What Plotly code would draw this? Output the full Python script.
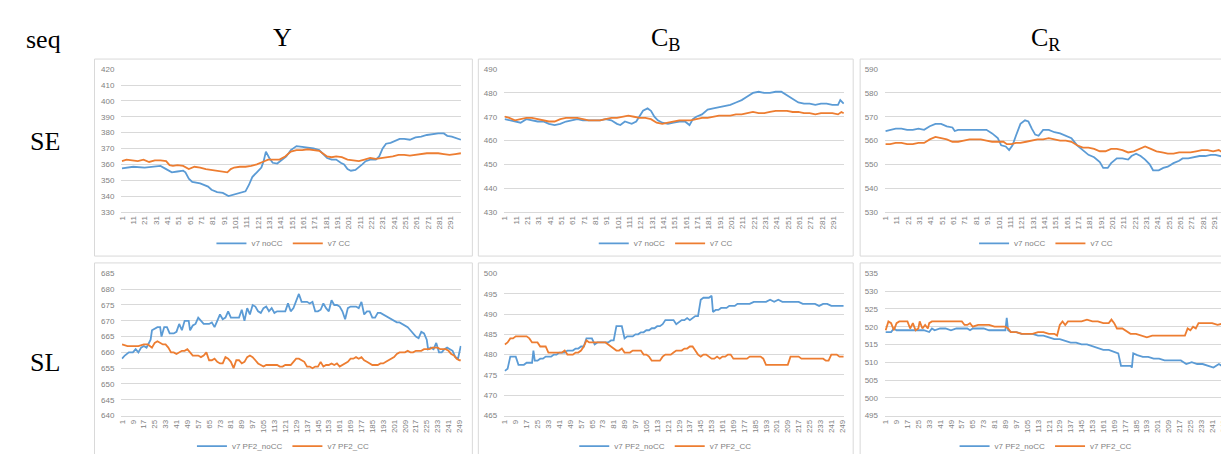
import plotly.graph_objects as go

# ---------------- data (index, value) ----------------
# Row SE (300 frames), Y
SE_Y_NOCC_X = [1,11,21,31,35,40,45,50,55,57,60,63,70,77,80,85,90,95,100,105,110,113,116,120,124,126,128,131,134,138,141,146,150,155,160,165,170,175,178,182,186,190,194,197,200,203,207,210,213,216,220,225,228,231,234,238,242,246,250,255,260,265,270,275,280,285,288,292,296,300]
SE_Y_NOCC = [357.5,358.5,358,358.5,359,357,355,355.5,356,355,351,349,348,346,344,342.5,342,340,341,342,343,347,352,355,358,362,368,364,361,360.5,362,365,369,371.5,371,370.5,370,369,367,364,363,363,361,360,357,356,356.5,358,360,362,363,363,365,370,373,373.5,375,376,376,375.5,377,377.5,378.5,379,379.5,379.5,378,377.5,376.5,375.5]
SE_Y_CC_X = [1,5,10,15,20,25,30,35,40,43,46,50,55,60,65,70,75,80,85,90,94,97,100,105,110,115,120,125,130,135,140,145,150,155,160,165,170,175,178,182,186,190,195,200,205,210,215,220,225,230,235,240,245,250,255,260,265,270,275,280,285,290,295,300]
SE_Y_CC = [362,363,362.5,362,363,361.5,362.5,362.5,362,359.5,359,359.5,359,357,358.5,358,357,356.5,356,355.5,355,357,358,358.5,358.5,359,360,361.5,363,363,363,365,368,369,369,369.5,369,368.5,367,365,364.5,365,364.5,363,362.5,362,363,364,363.5,364,364.5,365,366,366,365.5,366,366.5,367,367,367,366.5,366,366.5,367]

# Row SE, CB
SE_CB_NOCC_X = [1,5,10,15,20,25,30,35,40,45,50,55,60,65,70,75,80,85,90,95,100,103,107,110,113,117,120,123,127,130,133,136,140,145,150,155,160,164,167,170,175,180,185,190,195,200,205,210,215,220,225,230,235,240,245,250,255,260,265,270,275,280,285,290,295,297,300]
SE_CB_NOCC = [469,468.5,468,467.5,469,468.5,468,468,467,466.5,467,468,468.5,469,468.5,468.5,468.5,468.5,469,468.5,467,466.5,468,467.5,467,468,470,472.5,473.5,472.5,470,468.5,467.5,467,467.5,468,468,466.5,469,470,471,473,473.5,474,474.5,475,476,477,478.5,480,480.5,480,480,480.5,480.5,479,477.5,476,475.5,475.5,475,475.5,475.5,475,475,477,475.5]
SE_CB_CC_X = [1,5,10,15,20,25,30,35,40,45,50,55,60,65,70,75,80,85,90,95,100,105,110,115,120,125,130,135,140,145,150,155,160,165,170,175,180,185,190,195,200,205,210,215,220,225,230,235,240,245,250,255,260,265,270,275,280,285,290,295,298,300]
SE_CB_CC = [470,469.5,468.5,469,469.5,469.5,469,468.5,468,468,469,469.5,469.5,469.5,469,468.5,468.5,468.5,469,469.5,469.5,470,470.5,470,469.5,469.5,469,467.5,467,467.5,468,468.5,468.5,468.5,469,469.5,469.5,470,470.5,470.5,470.5,471,471,471.5,472,471.5,471.5,472,472.5,472.5,472.5,472,472,471.5,471.5,471,471.5,471.5,471.5,471,472,471.5]

# Row SE, CR
SE_CR_NOCC_X = [1,5,10,15,20,25,30,35,40,45,50,55,60,62,65,70,75,80,85,90,95,100,103,107,110,113,116,120,124,127,130,133,136,140,145,150,155,160,165,170,175,180,185,190,193,197,200,205,210,215,218,222,226,230,234,237,242,246,250,255,260,263,268,273,278,283,288,292,296,300]
SE_CR_NOCC = [564,564.5,565,565,564.5,564.5,565,564.5,566,567,567,566,565.5,564,564.5,564.5,564.5,564.5,564.5,564.5,563,561,558,557.5,556,558,562,567,568.5,568,565,562.5,562,564.5,564.5,563.5,563,562,561,558,556,554,553,551,548.5,548.5,550.5,552.5,552.5,552,553.5,554.5,553.5,552,550,547.5,547.5,548.5,549,550.5,551.5,552.5,552.5,553,553.5,553.5,554,554,553.5,553]
SE_CR_CC_X = [1,5,10,15,20,25,30,35,40,45,50,55,60,65,70,75,80,85,90,95,100,105,108,112,116,120,125,130,135,140,145,150,155,160,165,170,175,180,185,190,195,200,205,210,215,220,225,230,235,240,245,250,255,260,265,270,275,280,285,290,295,300]
SE_CR_CC = [558.5,558.5,559,559,558.5,558.5,559,559,560.5,561.5,561,560.5,559.5,559.5,560,560.5,560.5,560.5,560,559.5,559.5,559.5,558.5,558.5,559,559,559.5,560,560.5,560.5,561,560.5,560,560,559.5,558,557,557,556.5,555.5,555.5,556.5,556.5,556,555,555.5,556.5,557.5,556.5,555.5,555,554.5,554.5,555,555,555,555.5,556,556,555.5,556,554.5]

# Row SL (250 frames), Y
SL_Y_NOCC_X = [1,3,6,9,11,13,15,17,19,21,22,23,25,27,29,30,32,34,36,39,41,43,45,47,50,51,53,55,57,59,61,63,65,67,69,71,73,75,77,79,81,83,85,87,89,91,93,95,97,99,101,103,105,107,109,111,113,115,117,119,121,123,125,127,129,131,133,135,137,139,141,143,145,147,149,151,153,155,157,159,161,163,165,167,169,171,173,175,177,179,181,183,185,187,189,191,193,195,197,199,201,203,205,207,209,211,213,215,217,219,221,223,225,226,228,230,232,234,236,238,240,242,244,246,248,250]
SL_Y_NOCC = [658,659,660,660,661,660,661.5,662,661.5,663,664,667,667.5,668,668,665,668,668,666,666,666.5,669,667,670,670,667,668.5,669,671,670,669,669,669,669.5,668,670,672,670.5,671,673,671,671,671,671,673.5,670,674,672,675,674.5,673,672.5,674,674.5,673,674,672.5,673,673,673,673,675.5,673,674,676,678.5,676,676,676,675.5,676,673,673,673.5,675.5,674,673,676.5,675,675,674.5,673,670.5,674,674.5,674.5,674.5,674,676,672,673,673,671,671,672.5,672.5,672,671.5,671,670.5,670,669.5,669.5,669,668.5,668,667,666,665,664.5,666.5,666,664,661,661.5,661,663,660,660,661,661.5,661,660.5,658.5,658,662]
SL_Y_CC_X = [1,5,9,13,17,20,23,25,27,29,31,33,35,37,39,41,43,45,47,49,51,53,55,57,59,61,63,65,67,69,71,73,75,77,79,81,83,85,87,89,91,93,95,97,99,101,103,105,107,109,111,113,115,117,119,121,123,125,127,129,131,133,135,137,139,141,143,145,147,149,151,153,155,157,159,161,163,165,167,169,171,173,175,177,179,181,183,185,187,189,191,193,195,197,199,201,203,205,207,209,211,213,215,217,219,221,223,225,227,229,231,233,235,237,239,241,243,245,247,249,250]
SL_Y_CC = [662.5,662,662,662,662.5,662.5,661.5,663,663.5,663,662.5,662.5,661.5,660,660,659.5,660,660.5,660.5,661,660,659,659,659,658.5,659,660,657.5,657.5,658,657,656.5,656.5,658.5,658,657,655,657.5,657.5,656.5,657,658.5,659,658.5,657.5,656.5,656,655.5,656,656,656,656,656,655.5,655.5,656,656,656,657,658,658,657.5,657,655.5,655.5,655,655.5,655.5,657,655.5,656,656,656.5,656,656.5,655.5,656,656.5,657,658,658,658.5,658,658.5,657.5,657,656.5,656,656,656,656.5,656.5,657,657.5,658,658.5,659.5,660,660,660,660.5,660,660,660.5,660.5,660.5,661,661,661,661.5,661.5,661.5,661,661,661,660.5,659.5,659,658,657.5,657.5]

# Row SL, CB
SL_CB_NOCC_X = [1,3,5,7,9,11,13,15,17,19,21,22,23,25,27,29,31,33,35,37,39,41,43,45,47,49,51,53,55,57,59,61,63,65,67,69,71,73,75,77,79,81,83,85,87,89,91,93,95,97,99,101,103,105,107,109,111,113,115,117,119,121,123,125,127,129,131,133,135,137,139,141,143,145,147,149,151,153,154,156,158,160,162,164,166,168,170,172,175,178,181,184,187,190,193,196,199,202,205,208,211,214,217,220,223,226,229,232,235,238,241,244,247,250]
SL_CB_NOCC = [476,476.5,479.5,479.5,479.5,477.5,477.5,477.5,478,478,478,481,478.5,478.5,479,479,479.5,479.5,479.5,480,480,480.5,480.5,480.5,481,481,481,481.5,481.5,482,482,484,484,484,482.5,483,483,483,483,483,483.5,483.5,487,487,487,484,484.5,484.5,484.5,485,485,485.5,485.5,486,486,486.5,486.5,487,487,487.5,488.5,488.5,488.5,488.5,487.5,488,488.5,488.5,489,488.5,489,489.5,489.5,493.5,494,494,494,494.5,490.5,491,491,491.5,491.5,491.5,492,492,492,492.5,492.5,492.5,492.5,493,493,493,493,493.5,493,493.5,493,493,493,493,493,492.5,492.5,492.5,492.5,492,492.5,492.5,492,492,492,492]
SL_CB_CC_X = [1,3,5,7,9,11,13,15,17,19,21,23,25,27,29,31,33,35,37,39,41,43,45,47,49,51,53,55,57,59,61,63,65,67,69,71,73,75,77,79,81,83,85,87,89,91,93,95,97,99,101,103,105,107,109,111,113,115,117,119,121,123,125,127,129,131,133,135,137,139,141,143,145,147,149,151,153,155,157,159,161,163,165,167,169,171,173,175,177,179,181,183,185,187,189,191,193,195,197,199,201,203,205,207,209,211,213,215,217,219,221,223,225,227,229,231,233,235,237,239,241,243,245,247,249,250]
SL_CB_CC = [482.5,483,484,484,484.5,484.5,484.5,484.5,484.5,484,483,483,483,482,482,482,480.5,480.5,480.5,480.5,480.5,480.5,481,480,480,480,480.5,480.5,481,482,483.5,483,483,483,483,483,483,483,482.5,482,481.5,481,481,481.5,480.5,480.5,480.5,481,481,481,481,480,480,479.5,478.5,478.5,478.5,478.5,479.5,480,480,480,480.5,481,481,481,481.5,481.5,482,482,481,480,479.5,480,480,479.5,479,479,479.5,479,479.5,479.5,480,480,479,479,479,479,479,479,479.5,479.5,479.5,479.5,479.5,479,477.5,477.5,477.5,477.5,477.5,477.5,477.5,477.5,477.5,479.5,479.5,479.5,479.5,479,479,479,479,479,479,479,479,479,478.5,478.5,480,480,480,479.5,479.5,479.5]

# Row SL, CR
SL_CR_NOCC_X = [1,5,7,9,13,17,21,25,29,33,35,37,41,45,49,53,57,61,63,65,69,73,77,81,85,89,90,91,93,97,101,105,109,113,117,121,125,129,133,137,141,145,149,153,157,161,165,169,172,174,178,181,182,183,186,190,194,198,202,206,210,214,218,220,222,226,230,234,238,242,244,246,248,250]
SL_CR_NOCC = [518.5,518.5,519.5,519,519,519,519,519,519,518.5,519.5,519,519.5,519.5,519,519.5,519.5,519.5,519,519.5,519.5,519.5,519,519,519,519,522.5,519,518.5,518.5,518,518,518,517.5,517.5,517,516.5,516.5,516,515.5,515.5,515,515,514.5,514,513.5,513.5,513,512.5,509,509,509,508.5,512.5,512,511.5,511.5,511,511,510.5,510.5,510.5,510.5,510,509.5,510,509.5,509.5,509,508.5,509,509.5,509,509.5]
SL_CR_CC_X = [1,3,5,7,9,11,13,15,17,19,21,23,25,26,28,30,32,33,35,37,41,45,49,53,57,59,61,63,65,69,73,77,81,85,89,91,93,97,101,105,109,113,117,121,125,127,129,131,133,135,137,141,145,149,153,157,161,165,167,169,171,175,179,181,185,189,193,197,201,205,209,213,217,219,221,223,225,227,229,231,233,237,241,245,249,250]
SL_CR_CC = [519,521.5,521,519,521,521.5,521.5,521.5,521.5,519.5,521,519,519.5,521.5,519.5,520.5,519.5,521,521.5,521.5,521.5,521.5,521.5,521.5,521.5,520.5,520.5,521,520,520.5,520.5,520.5,520,520,520,519.5,518.5,518.5,518,518,518,518.5,518.5,518,518,517.5,520.5,521.5,520.5,521.5,521.5,521.5,521.5,522,521.5,521.5,521,521,522,521,519.5,519.5,518.5,518,518,517.5,517,517.5,517.5,517.5,517.5,517.5,517.5,517.5,517.5,519.5,519,520,519.5,521,521,521,521,520.5,521,521]

TOP_N = 300
BOT_N = 250
TOP_TICKS = list(range(1, TOP_N + 1, 10))
BOT_TICKS = list(range(1, BOT_N + 1, 8))

TOP_NAMES = ["v7 noCC", "v7 CC"]
BOT_NAMES = ["v7 PF2_noCC", "v7 PF2_CC"]

panels = [
    # (nocc_x, nocc, cc_x, cc, yrange, dtick, n, ticks, names)
    (SE_Y_NOCC_X, SE_Y_NOCC, SE_Y_CC_X, SE_Y_CC, (330, 420), 10, TOP_N, TOP_TICKS, TOP_NAMES),
    (SE_CB_NOCC_X, SE_CB_NOCC, SE_CB_CC_X, SE_CB_CC, (430, 490), 10, TOP_N, TOP_TICKS, TOP_NAMES),
    (SE_CR_NOCC_X, SE_CR_NOCC, SE_CR_CC_X, SE_CR_CC, (530, 590), 10, TOP_N, TOP_TICKS, TOP_NAMES),
    (SL_Y_NOCC_X, SL_Y_NOCC, SL_Y_CC_X, SL_Y_CC, (640, 685), 5, BOT_N, BOT_TICKS, BOT_NAMES),
    (SL_CB_NOCC_X, SL_CB_NOCC, SL_CB_CC_X, SL_CB_CC, (465, 500), 5, BOT_N, BOT_TICKS, BOT_NAMES),
    (SL_CR_NOCC_X, SL_CR_NOCC, SL_CR_CC_X, SL_CR_CC, (495, 535), 5, BOT_N, BOT_TICKS, BOT_NAMES),
]

# ---------------- layout geometry (pixels) ----------------
W, H = 1229, 454
BLUE, ORANGE = "#5B9BD5", "#ED7D31"
GRID = "#D9D9D9"
TXT = "#7F7F7F"

col_box = [(83, 463), (469, 846), (853, 1227)]
row_box = [(48, 249), (256, 453)]
col_plot = [(110, 452), (495, 837), (878, 1220)]
row_plot = [(58.3, 204), (266.7, 411.7)]
legend_y = [236, 443]


def px(x):
    return x / W


def py(y):
    return 1 - y / H


fig = go.Figure()
layout = dict(
    width=W, height=H, margin=dict(l=0, r=0, t=0, b=0),
    paper_bgcolor="white", plot_bgcolor="white", shapes=[], annotations=[],
)

for i, (nx, ny, cx, cy, yr, dt, n, ticks, names) in enumerate(panels):
    r, c = divmod(i, 3)
    k = i + 1
    xa = "x" if k == 1 else f"x{k}"
    ya = "y" if k == 1 else f"y{k}"
    lg = "legend" if k == 1 else f"legend{k}"
    fig.add_trace(go.Scatter(x=nx, y=ny, mode="lines", name=names[0],
                             line=dict(color=BLUE, width=1.8), xaxis=xa, yaxis=ya, legend=lg))
    fig.add_trace(go.Scatter(x=cx, y=cy, mode="lines", name=names[1],
                             line=dict(color=ORANGE, width=1.8), xaxis=xa, yaxis=ya, legend=lg))
    x0, x1 = col_plot[c]
    y0, y1 = row_plot[r]
    layout["xaxis" if k == 1 else f"xaxis{k}"] = dict(
        domain=[px(x0), px(x1)], anchor=ya, range=[0.5, n + 0.5],
        tickmode="array", tickvals=ticks, ticktext=[str(t) for t in ticks],
        tickangle=-90, showgrid=False, zeroline=False, showline=True,
        linecolor=GRID, linewidth=1, ticks="",
        tickfont=dict(family="Liberation Sans", size=8, color=TXT),
    )
    layout["yaxis" if k == 1 else f"yaxis{k}"] = dict(
        domain=[py(y1), py(y0)], anchor=xa, range=list(yr), dtick=dt,
        showgrid=True, gridcolor=GRID, gridwidth=1, zeroline=False,
        showline=False, ticks="", ticklabelstandoff=6,
        tickfont=dict(family="Liberation Sans", size=8, color=TXT),
    )
    bx0, bx1 = col_box[c]
    by0, by1 = row_box[r]
    layout["shapes"].append(dict(type="rect", xref="paper", yref="paper",
                                 x0=px(bx0), x1=px(bx1), y0=py(by1), y1=py(by0),
                                 line=dict(color=GRID, width=1), layer="below"))
    layout[lg] = dict(orientation="h", x=px((bx0 + bx1) / 2), xanchor="center",
                      y=py(legend_y[r]), yanchor="middle", bgcolor="rgba(0,0,0,0)",
                      font=dict(family="Liberation Sans", size=8, color=TXT),
                      itemwidth=30, tracegroupgap=0)

SERIF = "Liberation Serif"
labels = [
    ("seq", 32, 28),
    ("Y", 272, 26),
    ("C<sub>B</sub>", 657, 28),
    ("C<sub>R</sub>", 1040, 28),
    ("SE", 33, 132),
    ("SL", 33, 358),
]
for text, x, y in labels:
    layout["annotations"].append(dict(text=text, x=px(x), y=py(y), xref="paper", yref="paper",
                                      showarrow=False, xanchor="center", yanchor="middle",
                                      font=dict(family=SERIF, size=26, color="black")))

fig.update_layout(**layout)
fig.write_html("out.html")
